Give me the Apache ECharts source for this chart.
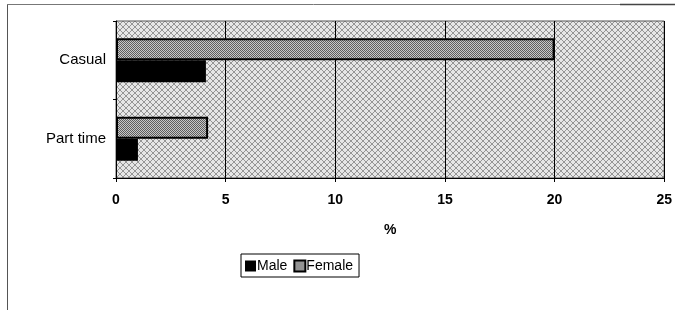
<!DOCTYPE html>
<html>
<head>
<meta charset="utf-8">
<script src="https://cdn.jsdelivr.net/npm/echarts@6/dist/echarts.min.js"></script>
<style>
  html, body { margin: 0; padding: 0; background: #fff; }
  #main { width: 675px; height: 310px; }
</style>
</head>
<body>
<div id="main"></div>
<script>
var categories = ['Part time', 'Casual'];
var maleValues = [1.0, 4.1];
var femaleValues = [4.2, 20];
var seriesNames = ['Male', 'Female'];

// small dither tiles to mimic the scanned hatching
function makeTile(dark, light, size) {
    var c = document.createElement('canvas');
    c.width = size; c.height = size;
    var ctx = c.getContext('2d');
    ctx.fillStyle = light;
    ctx.fillRect(0, 0, size, size);
    ctx.fillStyle = dark;
    for (var y = 0; y < size; y++) {
        for (var x = 0; x < size; x++) {
            if ((x + y) % 2 === 0) ctx.fillRect(x, y, 1, 1);
        }
    }
    return c;
}
function makeBgTile() {
    var c = document.createElement('canvas');
    c.width = 6; c.height = 6;
    var ctx = c.getContext('2d');
    ctx.fillStyle = '#e6e6e6';
    ctx.fillRect(0, 0, 6, 6);
    ctx.fillStyle = '#959595';
    for (var i = 0; i < 6; i++) {
        ctx.fillRect(i, i, 1, 1);
        ctx.fillRect(5 - i, i, 1, 1);
    }
    return c;
}

var femaleFill = { image: makeTile('#5e5e5e', '#c8c8c8', 4), repeat: 'repeat' };

var chart = echarts.init(document.getElementById('main'));
var option = {
    animation: false,
    textStyle: { fontFamily: 'Liberation Sans, Arial, sans-serif' },
    grid: {
        left: 116, right: 10, top: 21, bottom: 132,
        show: true,
        backgroundColor: { image: makeBgTile(), repeat: 'repeat' },
        borderColor: '#555',
        borderWidth: 1
    },
    xAxis: {
        type: 'value',
        min: 0, max: 25, interval: 5,
        name: '%',
        nameLocation: 'middle',
        nameGap: 45,
        nameTextStyle: { color: '#000', fontSize: 14, fontWeight: 'bold' },
        axisLine: { show: true, lineStyle: { color: '#000', width: 1 } },
        axisTick: { show: true, length: 4, lineStyle: { color: '#000' } },
        axisLabel: { color: '#000', fontSize: 14, fontWeight: 'bold', margin: 15 },
        splitLine: { show: true, lineStyle: { color: '#000', width: 1 } }
    },
    yAxis: {
        type: 'category',
        data: categories,
        axisLine: { show: true, lineStyle: { color: '#000', width: 1 } },
        axisTick: { show: true, length: 3, lineStyle: { color: '#000' } },
        axisLabel: { color: '#000', fontSize: 15, margin: 10 },
        splitLine: { show: false }
    },
    legend: {
        data: seriesNames,
        left: 241, top: 254,
        itemWidth: 11, itemHeight: 11, itemGap: 6,
        padding: [5, 6, 4, 4],
        borderColor: '#000', borderWidth: 1,
        textStyle: { color: '#000', fontSize: 14, padding: [0, 0, 0, -4] },
        icon: 'rect'
    },
    series: [
        {
            name: 'Female',
            type: 'bar',
            data: femaleValues,
            barWidth: 22,
            barGap: '0%',
            itemStyle: {
                color: femaleFill,
                borderColor: '#000',
                borderWidth: 2
            },
            z: 2
        },
        {
            name: 'Male',
            type: 'bar',
            data: maleValues,
            barWidth: 22,
            barGap: '0%',
            itemStyle: { color: '#000' },
            z: 2
        }
    ],
    graphic: [
        { type: 'line', shape: { x1: 7.5, y1: 4, x2: 7.5, y2: 310 }, style: { stroke: '#555', lineWidth: 1 } },
        { type: 'line', shape: { x1: 7, y1: 4.5, x2: 620, y2: 4.5 }, style: { stroke: '#777', lineWidth: 1 } },
        { type: 'line', shape: { x1: 620, y1: 4.5, x2: 675, y2: 4.5 }, style: { stroke: '#444', lineWidth: 1.5 } }
    ]
};
chart.setOption(option);
</script>
</body>
</html>
